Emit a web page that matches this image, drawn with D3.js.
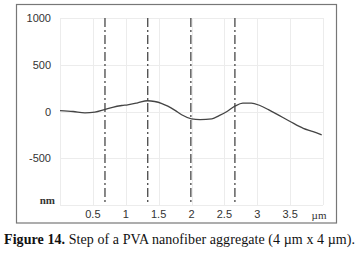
<!DOCTYPE html>
<html>
<head>
<meta charset="utf-8">
<script src="https://cdn.jsdelivr.net/npm/d3@7"></script>
<style>
  body { margin: 0; background: #fff; }
</style>
</head>
<body>
<svg id="chart" width="360" height="258"></svg>
<script>
// profile along the scan (x in µm, height in nm)
var profX = [0, 0.2, 0.38, 0.53, 0.68, 0.8, 0.94, 1.03, 1.18, 1.33, 1.44, 1.55, 1.64, 1.75, 1.85, 2.0, 2.13, 2.31, 2.42, 2.54, 2.66, 2.78, 2.91, 3.04, 3.17, 3.29, 3.5, 3.7, 3.85, 3.98];
var profY = [10, 0, -14, -7, 21, 45, 64, 72, 92, 115, 107, 85, 57, 12, -35, -78, -86, -78, -45, 0, 57, 90, 90, 64, 20, -25, -107, -180, -215, -250];
var cutX = [0.684, 1.334, 1.99, 2.66];
var xTicks = [0.5, 1, 1.5, 2, 2.5, 3, 3.5];
var yTicks = [1000, 500, 0, -500];

var svg = d3.select("#chart");
var pl = 60, pr = 323, pt = 18, pb = 205;
var sans = "'Liberation Sans', Arial, sans-serif";
var serif = "'Liberation Serif', 'Times New Roman', serif";

var x = d3.scaleLinear().domain([0, 4]).range([pl, pr]);
var y = d3.scaleLinear().domain([-1000, 1000]).range([pb, pt]);

// outer frame
svg.append("rect")
    .attr("x", 16.5).attr("y", 4.5)
    .attr("width", 320).attr("height", 218.5)
    .attr("fill", "none").attr("stroke", "#777").attr("stroke-width", 1.2);

// grid
var g = svg.append("g");
g.selectAll(".vg").data(d3.range(0, 4.01, 0.5)).enter().append("line")
    .attr("x1", d => Math.round(x(d)) + 0.5).attr("x2", d => Math.round(x(d)) + 0.5)
    .attr("y1", pt).attr("y2", pb)
    .attr("stroke", "#ececec");
g.selectAll(".hg").data([1000, 500, 0, -500, -1000]).enter().append("line")
    .attr("x1", pl).attr("x2", pr)
    .attr("y1", d => Math.round(y(d)) + 0.5).attr("y2", d => Math.round(y(d)) + 0.5)
    .attr("stroke", "#ececec");

// y labels
svg.selectAll(".yl").data(yTicks).enter().append("text")
    .attr("x", 51).attr("y", d => y(d) + 4)
    .attr("text-anchor", "end").style("font-family", sans).style("font-size", "11px").attr("fill", "#333")
    .text(d => d);
svg.append("text").attr("x", 55).attr("y", 204)
    .attr("text-anchor", "end").style("font-size", "11px")
    .style("font-family", serif).style("font-weight", "bold").attr("fill", "#333")
    .text("nm");

// x labels
svg.selectAll(".xl").data(xTicks).enter().append("text")
    .attr("x", d => x(d)).attr("y", 218)
    .attr("text-anchor", "middle").style("font-family", sans).style("font-size", "11px").attr("fill", "#333")
    .text(d => d);
svg.append("text").attr("x", 319).attr("y", 219)
    .attr("text-anchor", "middle").style("font-size", "11px")
    .style("font-family", serif).attr("fill", "#333")
    .text("µm");

// cut markers
svg.selectAll(".cut").data(cutX).enter().append("line")
    .attr("x1", d => x(d)).attr("x2", d => x(d))
    .attr("y1", pt).attr("y2", pb)
    .attr("stroke", "#555").attr("stroke-width", 1.4)
    .attr("stroke-dasharray", "9,3,2,3");

// profile line
var line = d3.line()
    .x((d, i) => x(profX[i]))
    .y(d => y(d))
    .curve(d3.curveMonotoneX);
svg.append("path").datum(profY)
    .attr("d", line)
    .attr("fill", "none").attr("stroke", "#444").attr("stroke-width", 1.3);

// caption
var cap = svg.append("text").attr("x", 4).attr("y", 244)
    .attr("textLength", 351)
    .style("font-family", serif).style("font-size", "14px").attr("fill", "#111");
cap.append("tspan").style("font-weight", "bold").text("Figure 14.");
cap.append("tspan").text(" Step of a PVA nanofiber aggregate (4 µm x 4 µm).");
</script>
</body>
</html>
